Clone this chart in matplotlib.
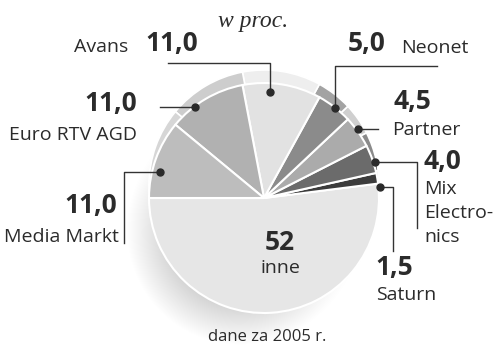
import numpy as np
import matplotlib.pyplot as plt

# data (w proc., 2005)
labels = ["inne", "Saturn", "Mix Electronics", "Partner", "Neonet", "Avans", "Euro RTV AGD", "Media Markt"]
shares = [52, 1.5, 4.0, 4.5, 5.0, 11.0, 11.0, 11.0]
value_text = ["52", "1,5", "4,0", "4,5", "5,0", "11,0", "11,0", "11,0"]
colors = ["#e6e6e6", "#3c3c3c", "#6b6b6b", "#ababab", "#8b8b8b", "#e2e2e2", "#b1b1b1", "#bdbdbd"]
rim_colors = ["#e6e6e6", "#555555", "#8a8a8a", "#cfcfcf", "#a3a3a3", "#eeeeee", "#cdcdcd", "#d6d6d6"]

H, W = 348, 500
fig = plt.figure(figsize=(5, 3.48), dpi=100)
ax = fig.add_axes([0, 0, 1, 1])

def Y(y):
    return H - y  # pixel rows -> axis coords

px, py, r = 264, 198, 115
cx, cy = px, Y(py)
sans = "Open Sans"
ink = "#2b2b2b"

# soft shadow to the lower left of the pie
yy, xx = np.mgrid[0:H, 0:W] + 0.5
dx = xx - px
dy = -(yy - py)
dist = np.hypot(dx, dy)
ang = np.arctan2(dy, dx)
wgt = np.clip(np.cos(ang - np.radians(235)), 0, 1) ** 1.5
reach = 8 + 38 * wgt
outside = np.clip(dist - r + 6, 0, None)
alpha = 0.2 * wgt * np.clip(1 - outside / reach, 0, 1)
shadow = np.zeros((H, W, 4))
shadow[..., 3] = alpha
ax.imshow(shadow, extent=(0, W, 0, H), origin="upper", zorder=0, interpolation="bilinear")

# top rim (3d look)
ax.pie(shares, colors=rim_colors, startangle=180, counterclock=True,
       center=(cx, cy + 13), radius=r,
       wedgeprops=dict(edgecolor="white", linewidth=1.2), frame=True)
# main pie
wedges, _ = ax.pie(shares, colors=colors, startangle=180, counterclock=True,
                   center=(cx, cy), radius=r,
                   wedgeprops=dict(edgecolor="white", linewidth=1.5), frame=True)
for w in wedges:
    w.set_zorder(3)

ax.set_xlim(0, W)
ax.set_ylim(0, H)
ax.set_aspect("equal")
ax.axis("off")

# leader lines with dots
def leader(pts):
    xs = [p[0] for p in pts]
    ys = [Y(p[1]) for p in pts]
    ax.plot(xs, ys, color="#333333", lw=1, zorder=5)
    ax.plot(xs[0], ys[0], "o", color="#2a2a2a", ms=5, zorder=6)

leader([(270, 92), (270, 63), (168, 63)])              # Avans
leader([(335, 108), (335, 66), (437, 66)])             # Neonet
leader([(195, 107), (160, 107)])                       # Euro RTV AGD
leader([(358, 129), (378, 129)])                       # Partner
leader([(375, 162), (417, 162), (417, 228)])           # Mix
leader([(380, 187), (393, 187), (393, 251)])           # Saturn
leader([(160, 172), (124, 172), (124, 243)])           # Media Markt

num_kw = dict(fontsize=19, fontweight="bold", color=ink, family=sans, va="center", zorder=7)
lab_kw = dict(fontsize=14, color=ink, family=sans, va="center", zorder=7)

ax.text(253, Y(21), "w proc.", fontsize=17, style="italic", family="Liberation Serif",
        color=ink, ha="center", va="center")

ax.text(128, Y(47), "Avans", ha="right", **lab_kw)
ax.text(145, Y(44), value_text[5], ha="left", **num_kw)

ax.text(348, Y(44), value_text[4], ha="left", **num_kw)
ax.text(401, Y(48), "Neonet", ha="left", **lab_kw)

ax.text(137, Y(104), value_text[6], ha="right", **num_kw)
ax.text(137, Y(135), "Euro RTV AGD", ha="right", **lab_kw)

ax.text(394, Y(102), value_text[3], ha="left", **num_kw)
ax.text(392, Y(130), "Partner", ha="left", **lab_kw)

ax.text(423, Y(162), value_text[2], ha="left", **num_kw)
ax.text(424, Y(189), "Mix", ha="left", **lab_kw)
ax.text(424, Y(213), "Electro-", ha="left", **lab_kw)
ax.text(424, Y(237), "nics", ha="left", **lab_kw)

ax.text(117, Y(206), value_text[7], ha="right", **num_kw)
ax.text(119, Y(237), "Media Markt", ha="right", **lab_kw)

ax.text(375, Y(267), value_text[1], ha="left", **num_kw)
ax.text(376, Y(295), "Saturn", ha="left", **lab_kw)

ax.text(280, Y(242), value_text[0], ha="center", **num_kw)
ax.text(280, Y(268), "inne", ha="center", **lab_kw)

ax.text(267, Y(337), "dane za 2005 r.", fontsize=12, color=ink, family=sans,
        ha="center", va="center")

fig.savefig("out.png", dpi=100, facecolor="white")
